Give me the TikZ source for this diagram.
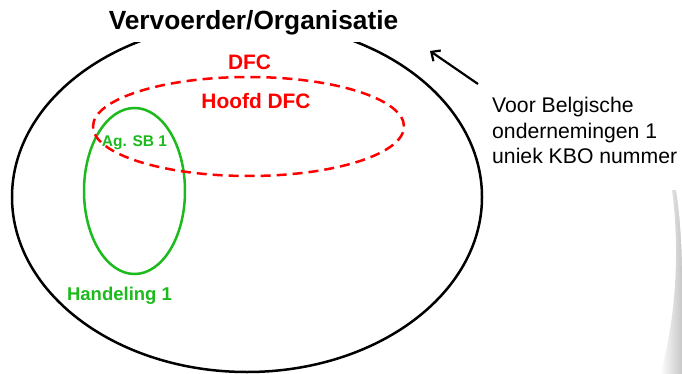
\documentclass[tikz,border=0pt]{standalone}
\usepackage{fontspec}
\setmainfont{Liberation Sans}
\usetikzlibrary{arrows.meta}
\definecolor{dfcred}{RGB}{255,0,0}
\definecolor{sbgreen}{RGB}{28,186,28}
\begin{document}
\begin{tikzpicture}[x=1pt,y=-1pt,
  outline/.style={draw=black,line width=2.5pt},
  redline/.style={draw=dfcred,line width=2.5pt,dash pattern=on 10pt off 6pt},
  greenline/.style={draw=sbgreen,line width=2.5pt},
  redlabel/.style={text=dfcred,font=\bfseries\fontsize{20.9}{24}\selectfont,anchor=base,inner sep=0pt},
  greenlabel/.style={text=sbgreen,font=\bfseries\fontsize{18.5}{22}\selectfont,anchor=base,inner sep=0pt}]
\useasboundingbox (0,0) rectangle (682,374);
% page curl shadow
\shade[left color=white,right color=black!22]
  (672,190) .. controls (680,250) and (676,320) .. (660,374) -- (682,374) -- (682,190) -- cycle;
\fill[white] (676,190) .. controls (684,240) and (682,300) .. (682,320) -- (682,190) -- cycle;
% ellipses
\draw[outline] (247,197) ellipse [x radius=235pt, y radius=175pt];
\draw[greenline] (134.5,191) ellipse [x radius=50.5pt, y radius=83pt];
\draw[redline] (248.5,126.5) ellipse [x radius=155.5pt, y radius=49.5pt];
% title (covers the top of the big ellipse)
\node[fill=white,anchor=base,inner xsep=6pt,inner ysep=7.5pt,text depth=5pt,
      font=\bfseries\fontsize{26.3}{30}\selectfont] (title) at (253.5,29.5) {Vervoerder/Organisatie};
% labels
\node[redlabel] (dfc) at (249.5,70) {DFC};
\node[redlabel] (hoofd) at (256,109) {Hoofd DFC};
\node[greenlabel,font=\bfseries\fontsize{15.5}{18}\selectfont] (agsb) at (134.5,146.5) {Ag. SB 1};
\node[greenlabel] (hand) at (119.5,300) {Handeling 1};
\node[anchor=north west,align=left,inner sep=0pt,font=\fontsize{21.2}{25.5}\selectfont] (kbo) at (492,97)
  {Voor Belgische\\ondernemingen 1\\uniek KBO nummer};
% arrow
\coordinate (atail) at (478,84);
\coordinate (ahead) at (430,51);
\draw[line width=2.2pt,-{Straight Barb[length=7pt,width=13pt,line width=2.2pt]}] (atail) -- (ahead);
\end{tikzpicture}
\end{document}
